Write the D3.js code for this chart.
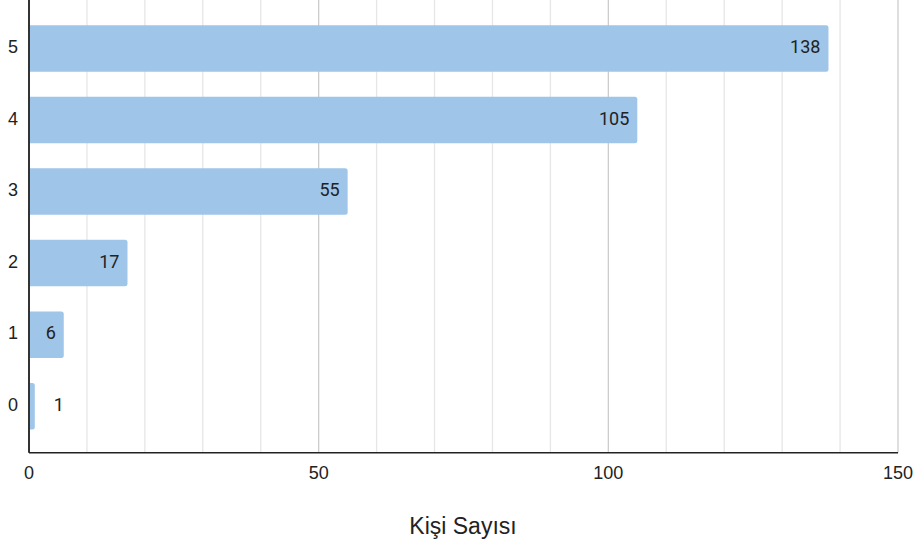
<!DOCTYPE html>
<html><head><meta charset="utf-8">
<script src="https://cdn.jsdelivr.net/npm/d3@7"></script>
<style>body{margin:0;background:#fff}svg{display:block}text{font-family:Arial,"Liberation Sans",sans-serif}.val{font-family:Roboto,"Noto Sans",sans-serif}</style>
</head><body>
<svg id="c" width="917" height="546"></svg>
<script>
const categories = ["0","1","2","3","4","5"];
const values = [1, 6, 17, 55, 105, 138];
const xTicks = [0, 50, 100, 150];
const minorTicks = d3.range(0, 151, 10);
const xTitle = "Kişi Sayısı";

(function(){
const svg = d3.select("#c");
const mLeft = 29, mRight = 898, mTop = 2, mBottom = 452.7;
const x = d3.scaleLinear().domain([0,150]).range([mLeft,mRight]);
const y = d3.scaleBand().domain(categories.slice().reverse()).range([mTop,mBottom]).paddingInner(0.35).paddingOuter(0.325);

// grid
svg.append("g").selectAll("line").data(minorTicks).join("line")
  .attr("x1",d=>x(d)).attr("x2",d=>x(d)).attr("y1",0).attr("y2",mBottom)
  .attr("stroke",d=>d%50===0?"#cccccc":"#e6e6e6").attr("stroke-width",1.3);

// bars
const r = 2.5;
svg.append("g").selectAll("path").data(values).join("path")
  .attr("fill","#9fc5e8")
  .attr("d",(d,i)=>{
    const x0 = x(0), x1 = x(d), y0 = y(categories[i]), h = y.bandwidth();
    const rr = Math.min(r, (x1-x0)/2);
    return `M${x0},${y0}H${x1-rr}Q${x1},${y0} ${x1},${y0+rr}V${y0+h-rr}Q${x1},${y0+h} ${x1-rr},${y0+h}H${x0}Z`;
  });

// value labels
svg.append("g").selectAll("text").data(values).join("text")
  .attr("class","val")
  .attr("x",d=>{ const w = x(d)-x(0); return w < 20 ? x(d)+19 : x(d)-8; })
  .attr("text-anchor",d=>(x(d)-x(0)) < 20 ? "start" : "end")
  .attr("y",(d,i)=>y(categories[i])+y.bandwidth()/2-2)
  .attr("dy","0.36em").attr("font-size",18).attr("fill","#222")
  .text(d=>d);

// axes lines
svg.append("line").attr("x1",mLeft).attr("x2",mLeft).attr("y1",0).attr("y2",mBottom)
  .attr("stroke","#333").attr("stroke-width",2);
svg.append("line").attr("x1",mLeft).attr("x2",mRight).attr("y1",mBottom).attr("y2",mBottom)
  .attr("stroke","#222").attr("stroke-width",1.6);

// y labels
svg.append("g").selectAll("text").data(categories).join("text")
  .attr("x",13).attr("y",d=>y(d)+y.bandwidth()/2-2).attr("dy","0.36em")
  .attr("text-anchor","middle").attr("font-size",18).attr("fill","#222").text(d=>d);

// x tick labels
svg.append("g").selectAll("text").data(xTicks).join("text")
  .attr("x",d=>x(d)).attr("y",472.5).attr("dy","0.36em")
  .attr("text-anchor","middle").attr("font-size",18).attr("fill","#222").text(d=>d);

// title
svg.append("text").attr("x",463).attr("y",526).attr("dy","0.36em")
  .attr("text-anchor","middle").attr("font-size",23).attr("fill","#222").text(xTitle);
})();
</script>
</body></html>
